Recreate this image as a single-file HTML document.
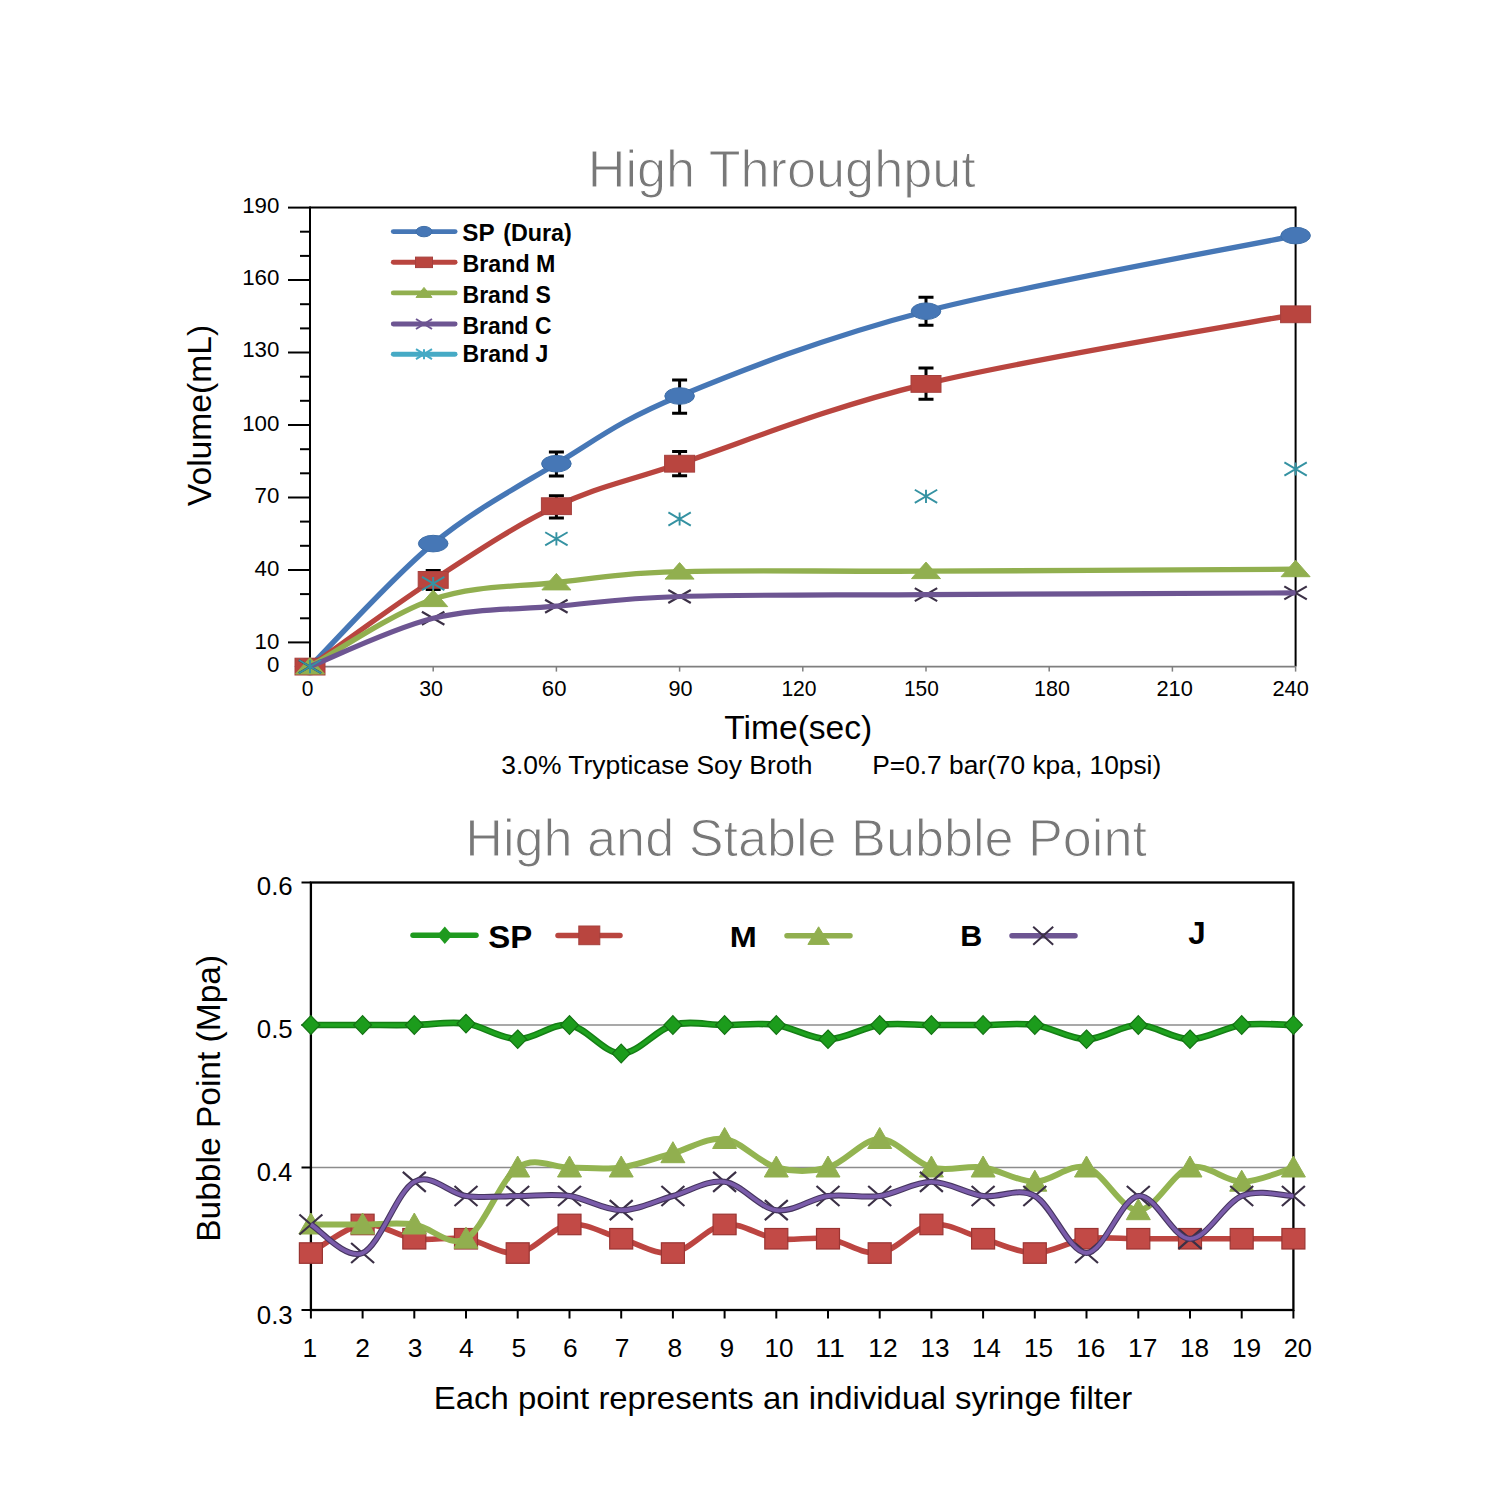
<!DOCTYPE html>
<html><head><meta charset="utf-8"><title>High Throughput / Bubble Point</title>
<style>
html,body{margin:0;padding:0;background:#fff;}
body{width:1500px;height:1500px;overflow:hidden;position:relative;}
svg{position:absolute;left:0;top:0;display:block;}
</style></head>
<body>
<svg width="1500" height="1500" viewBox="0 0 1500 1500" font-family='"Liberation Sans", Arial, Helvetica, sans-serif'>
<rect width="1500" height="1500" fill="#fff"/>
<text x="587.72" y="186.50" font-size="51.40" fill="#787878" textLength="388.06" lengthAdjust="spacingAndGlyphs" stroke="#fff" stroke-width="1.1">High Throughput</text>
<line x1="310" y1="207.5" x2="1295.6" y2="207.5" stroke="#000" stroke-width="2"/>
<line x1="310" y1="206.5" x2="310" y2="666.6" stroke="#000" stroke-width="2"/>
<line x1="1295.6" y1="206.5" x2="1295.6" y2="666.6" stroke="#000" stroke-width="2"/>
<line x1="310" y1="666.6" x2="1295.6" y2="666.6" stroke="#7f7f7f" stroke-width="1.6"/>
<line x1="300" y1="618.3" x2="310" y2="618.3" stroke="#000" stroke-width="2"/>
<line x1="300" y1="594.1" x2="310" y2="594.1" stroke="#000" stroke-width="2"/>
<line x1="300" y1="545.8" x2="310" y2="545.8" stroke="#000" stroke-width="2"/>
<line x1="300" y1="521.6" x2="310" y2="521.6" stroke="#000" stroke-width="2"/>
<line x1="300" y1="473.3" x2="310" y2="473.3" stroke="#000" stroke-width="2"/>
<line x1="300" y1="449.2" x2="310" y2="449.2" stroke="#000" stroke-width="2"/>
<line x1="300" y1="400.8" x2="310" y2="400.8" stroke="#000" stroke-width="2"/>
<line x1="300" y1="376.7" x2="310" y2="376.7" stroke="#000" stroke-width="2"/>
<line x1="300" y1="328.4" x2="310" y2="328.4" stroke="#000" stroke-width="2"/>
<line x1="300" y1="304.2" x2="310" y2="304.2" stroke="#000" stroke-width="2"/>
<line x1="300" y1="255.9" x2="310" y2="255.9" stroke="#000" stroke-width="2"/>
<line x1="300" y1="231.7" x2="310" y2="231.7" stroke="#000" stroke-width="2"/>
<line x1="288" y1="207.6" x2="310" y2="207.6" stroke="#000" stroke-width="2"/>
<line x1="288" y1="280" x2="310" y2="280" stroke="#000" stroke-width="2"/>
<line x1="288" y1="352.5" x2="310" y2="352.5" stroke="#000" stroke-width="2"/>
<line x1="288" y1="425" x2="310" y2="425" stroke="#000" stroke-width="2"/>
<line x1="288" y1="497.5" x2="310" y2="497.5" stroke="#000" stroke-width="2"/>
<line x1="288" y1="570" x2="310" y2="570" stroke="#000" stroke-width="2"/>
<line x1="288" y1="642.4" x2="310" y2="642.4" stroke="#000" stroke-width="2"/>
<text x="242.17" y="213.00" font-size="22.30" fill="#000" textLength="37.21" lengthAdjust="spacingAndGlyphs">190</text>
<text x="242.17" y="284.90" font-size="22.30" fill="#000" textLength="37.21" lengthAdjust="spacingAndGlyphs">160</text>
<text x="242.17" y="357.30" font-size="22.30" fill="#000" textLength="37.21" lengthAdjust="spacingAndGlyphs">130</text>
<text x="242.17" y="430.60" font-size="22.30" fill="#000" textLength="37.21" lengthAdjust="spacingAndGlyphs">100</text>
<text x="254.57" y="503.30" font-size="22.30" fill="#000" textLength="24.80" lengthAdjust="spacingAndGlyphs">70</text>
<text x="254.57" y="575.90" font-size="22.30" fill="#000" textLength="24.80" lengthAdjust="spacingAndGlyphs">40</text>
<text x="254.57" y="648.50" font-size="22.30" fill="#000" textLength="24.80" lengthAdjust="spacingAndGlyphs">10</text>
<text x="266.97" y="671.90" font-size="22.30" fill="#000" textLength="12.40" lengthAdjust="spacingAndGlyphs">0</text>
<line x1="433.2" y1="666.6" x2="433.2" y2="671.6" stroke="#7f7f7f" stroke-width="1.5"/>
<line x1="556.4" y1="666.6" x2="556.4" y2="671.6" stroke="#7f7f7f" stroke-width="1.5"/>
<line x1="679.6" y1="666.6" x2="679.6" y2="671.6" stroke="#7f7f7f" stroke-width="1.5"/>
<line x1="802.8" y1="666.6" x2="802.8" y2="671.6" stroke="#7f7f7f" stroke-width="1.5"/>
<line x1="926" y1="666.6" x2="926" y2="671.6" stroke="#7f7f7f" stroke-width="1.5"/>
<line x1="1049.2" y1="666.6" x2="1049.2" y2="671.6" stroke="#7f7f7f" stroke-width="1.5"/>
<line x1="1172.4" y1="666.6" x2="1172.4" y2="671.6" stroke="#7f7f7f" stroke-width="1.5"/>
<line x1="1295.6" y1="666.6" x2="1295.6" y2="671.6" stroke="#7f7f7f" stroke-width="1.5"/>
<text x="301.78" y="695.80" font-size="22.30" fill="#000" textLength="11.64" lengthAdjust="spacingAndGlyphs">0</text>
<text x="419.18" y="695.80" font-size="22.30" fill="#000" textLength="23.86" lengthAdjust="spacingAndGlyphs">30</text>
<text x="541.87" y="695.80" font-size="22.30" fill="#000" textLength="24.60" lengthAdjust="spacingAndGlyphs">60</text>
<text x="668.38" y="695.80" font-size="22.30" fill="#000" textLength="24.07" lengthAdjust="spacingAndGlyphs">90</text>
<text x="781.39" y="695.80" font-size="22.30" fill="#000" textLength="35.24" lengthAdjust="spacingAndGlyphs">120</text>
<text x="904.01" y="695.80" font-size="22.30" fill="#000" textLength="34.81" lengthAdjust="spacingAndGlyphs">150</text>
<text x="1033.97" y="695.80" font-size="22.30" fill="#000" textLength="35.88" lengthAdjust="spacingAndGlyphs">180</text>
<text x="1156.51" y="695.80" font-size="22.30" fill="#000" textLength="36.35" lengthAdjust="spacingAndGlyphs">210</text>
<text x="1272.51" y="695.80" font-size="22.30" fill="#000" textLength="36.35" lengthAdjust="spacingAndGlyphs">240</text>
<text x="724.26" y="738.60" font-size="32.60" fill="#000" textLength="148.03" lengthAdjust="spacingAndGlyphs">Time(sec)</text>
<text x="501.20" y="773.50" font-size="26.50" fill="#000" textLength="311.33" lengthAdjust="spacingAndGlyphs">3.0% Trypticase Soy Broth</text>
<text x="872.24" y="773.50" font-size="26.50" fill="#000" textLength="288.99" lengthAdjust="spacingAndGlyphs">P=0.7 bar(70 kpa, 10psi)</text>
<text transform="translate(210.80,506.17) rotate(-90)" x="0" y="0" font-size="33.60" fill="#000" textLength="181.44" lengthAdjust="spacingAndGlyphs">Volume(mL)</text>
<path d="M310,666.6 C330.5,646.1 392.1,577.4 433.2,543.6 C474.3,509.8 515.3,488.3 556.4,463.7 C597.5,439.1 618,421.4 679.6,396 C741.2,370.6 823.3,337.9 926,311.2 C1028.7,284.5 1234,248.2 1295.6,235.6" fill="none" stroke="#4677b6" stroke-width="5.3" stroke-linejoin="round"/>
<path d="M556.4,452 V475.9 M548.9,452 H563.9 M548.9,475.9 H563.9" stroke="#000" stroke-width="3" fill="none"/>
<path d="M679.6,380 V413.3 M672.1,380 H687.1 M672.1,413.3 H687.1" stroke="#000" stroke-width="3" fill="none"/>
<path d="M926,297.3 V325.3 M918.5,297.3 H933.5 M918.5,325.3 H933.5" stroke="#000" stroke-width="3" fill="none"/>
<ellipse cx="310" cy="666.6" rx="14.8" ry="8.3" fill="#4677b6" stroke="#3f6fa8" stroke-width="1"/>
<ellipse cx="433.2" cy="543.6" rx="14.8" ry="8.3" fill="#4677b6" stroke="#3f6fa8" stroke-width="1"/>
<ellipse cx="556.4" cy="463.7" rx="14.8" ry="8.3" fill="#4677b6" stroke="#3f6fa8" stroke-width="1"/>
<ellipse cx="679.6" cy="396" rx="14.8" ry="8.3" fill="#4677b6" stroke="#3f6fa8" stroke-width="1"/>
<ellipse cx="926" cy="311.2" rx="14.8" ry="8.3" fill="#4677b6" stroke="#3f6fa8" stroke-width="1"/>
<ellipse cx="1295.6" cy="235.6" rx="14.8" ry="8.3" fill="#4677b6" stroke="#3f6fa8" stroke-width="1"/>
<path d="M310,666.6 C330.5,652.1 392.1,606.6 433.2,579.9 C474.3,553.1 515.3,525.5 556.4,506.2 C597.5,486.8 618,484 679.6,463.7 C741.2,443.3 823.3,408.8 926,383.9 C1028.7,359 1234,325.9 1295.6,314.3" fill="none" stroke="#b9453f" stroke-width="5.3" stroke-linejoin="round"/>
<path d="M433.2,570.4 V589.6 M425.7,570.4 H440.7 M425.7,589.6 H440.7" stroke="#000" stroke-width="3" fill="none"/>
<path d="M556.4,495.7 V518.1 M548.9,495.7 H563.9 M548.9,518.1 H563.9" stroke="#000" stroke-width="3" fill="none"/>
<path d="M679.6,451.5 V475.8 M672.1,451.5 H687.1 M672.1,475.8 H687.1" stroke="#000" stroke-width="3" fill="none"/>
<path d="M926,368 V399.2 M918.5,368 H933.5 M918.5,399.2 H933.5" stroke="#000" stroke-width="3" fill="none"/>
<rect x="295" y="658.2" width="30" height="16.8" fill="#b9453f" stroke="#a5403d" stroke-width="1"/>
<rect x="418.2" y="571.5" width="30" height="16.8" fill="#b9453f" stroke="#a5403d" stroke-width="1"/>
<rect x="541.4" y="497.8" width="30" height="16.8" fill="#b9453f" stroke="#a5403d" stroke-width="1"/>
<rect x="664.6" y="455.3" width="30" height="16.8" fill="#b9453f" stroke="#a5403d" stroke-width="1"/>
<rect x="911" y="375.5" width="30" height="16.8" fill="#b9453f" stroke="#a5403d" stroke-width="1"/>
<rect x="1280.6" y="305.9" width="30" height="16.8" fill="#b9453f" stroke="#a5403d" stroke-width="1"/>
<path d="M310,666.6 C330.5,655.4 392.1,613.2 433.2,599.2 C474.3,585.2 515.3,587.1 556.4,582.5 C597.5,577.9 618,573.5 679.6,571.7 C741.2,569.8 823.3,571.6 926,571.2 C1028.7,570.8 1234,569.6 1295.6,569.2" fill="none" stroke="#91af4f" stroke-width="5.3" stroke-linejoin="round"/>
<path d="M310,657.5 L324.5,674 L295.5,674 Z" fill="#91af4f" stroke="#91af4f" stroke-width="1" stroke-linejoin="miter"/>
<path d="M433.2,590.1 L447.7,606.6 L418.7,606.6 Z" fill="#91af4f" stroke="#91af4f" stroke-width="1" stroke-linejoin="miter"/>
<path d="M556.4,573.4 L570.9,589.9 L541.9,589.9 Z" fill="#91af4f" stroke="#91af4f" stroke-width="1" stroke-linejoin="miter"/>
<path d="M679.6,562.6 L694.1,579.1 L665.1,579.1 Z" fill="#91af4f" stroke="#91af4f" stroke-width="1" stroke-linejoin="miter"/>
<path d="M926,562.1 L940.5,578.6 L911.5,578.6 Z" fill="#91af4f" stroke="#91af4f" stroke-width="1" stroke-linejoin="miter"/>
<path d="M1295.6,560.2 L1310.1,576.7 L1281.1,576.7 Z" fill="#91af4f" stroke="#91af4f" stroke-width="1" stroke-linejoin="miter"/>
<path d="M298.8,660.1 L321.2,673.1 M298.8,673.1 L321.2,660.1" stroke="#3b3046" stroke-width="2.2" fill="none"/>
<path d="M421.9,611.8 L444.4,624.8 M421.9,624.8 L444.4,611.8" stroke="#3b3046" stroke-width="2.2" fill="none"/>
<path d="M545.1,599.7 L567.6,612.7 M545.1,612.7 L567.6,599.7" stroke="#3b3046" stroke-width="2.2" fill="none"/>
<path d="M668.3,590 L690.8,603 M668.3,603 L690.8,590" stroke="#3b3046" stroke-width="2.2" fill="none"/>
<path d="M914.8,588.1 L937.2,601.1 M914.8,601.1 L937.2,588.1" stroke="#3b3046" stroke-width="2.2" fill="none"/>
<path d="M1284.3,586.4 L1306.8,599.4 M1284.3,599.4 L1306.8,586.4" stroke="#3b3046" stroke-width="2.2" fill="none"/>
<path d="M310,666.6 C330.5,658.5 392.1,628.3 433.2,618.3 C474.3,608.2 515.3,609.8 556.4,606.2 C597.5,602.6 618,598.5 679.6,596.5 C741.2,594.6 823.3,595.2 926,594.6 C1028.7,594 1234,593.2 1295.6,592.9" fill="none" stroke="#6d5592" stroke-width="5.2" stroke-linejoin="round"/>
<path d="M298.8,660 L321.2,673.2 M298.8,673.2 L321.2,660 M310,660 V673.2" stroke="#3592a2" stroke-width="1.9" fill="none"/>
<path d="M422,576.9 L444.4,590.1 M422,590.1 L444.4,576.9 M433.2,576.9 V590.1" stroke="#3592a2" stroke-width="1.9" fill="none"/>
<path d="M545.2,532.2 L567.6,545.4 M545.2,545.4 L567.6,532.2 M556.4,532.2 V545.4" stroke="#3592a2" stroke-width="1.9" fill="none"/>
<path d="M668.4,512.4 L690.8,525.6 M668.4,525.6 L690.8,512.4 M679.6,512.4 V525.6" stroke="#3592a2" stroke-width="1.9" fill="none"/>
<path d="M914.8,489.7 L937.2,502.9 M914.8,502.9 L937.2,489.7 M926,489.7 V502.9" stroke="#3592a2" stroke-width="1.9" fill="none"/>
<path d="M1284.4,462.4 L1306.8,475.6 M1284.4,475.6 L1306.8,462.4 M1295.6,462.4 V475.6" stroke="#3592a2" stroke-width="1.9" fill="none"/>
<line x1="393.3" y1="231.6" x2="455.1" y2="231.6" stroke="#4677b6" stroke-width="4.9" stroke-linecap="round"/>
<ellipse cx="424" cy="231.6" rx="8.1" ry="5.2" fill="#4677b6" stroke="#3f6fa8" stroke-width="1"/>
<line x1="393.3" y1="262.3" x2="455.1" y2="262.3" stroke="#b9453f" stroke-width="4.9" stroke-linecap="round"/>
<rect x="415.5" y="257.1" width="17" height="10.5" fill="#b9453f" stroke="#a5403d" stroke-width="1"/>
<line x1="393.3" y1="292.9" x2="455.1" y2="292.9" stroke="#91af4f" stroke-width="4.9" stroke-linecap="round"/>
<path d="M424,287.4 L432,297.4 L416,297.4 Z" fill="#91af4f" stroke="#91af4f" stroke-width="1" stroke-linejoin="miter"/>
<line x1="393.3" y1="324" x2="455.1" y2="324" stroke="#6d5592" stroke-width="4.9" stroke-linecap="round"/>
<path d="M416,319 L432,329 M416,329 L432,319" stroke="#6d5592" stroke-width="2" fill="none"/>
<line x1="393.3" y1="354.2" x2="455.1" y2="354.2" stroke="#46aac5" stroke-width="4.9" stroke-linecap="round"/>
<path d="M416,349.2 L432,359.2 M416,359.2 L432,349.2 M424,349.2 V359.2" stroke="#46aac5" stroke-width="2" fill="none"/>
<text x="462.30" y="241.00" font-size="23.50" font-weight="bold" fill="#000" textLength="32.33" lengthAdjust="spacingAndGlyphs">SP</text>
<text x="503.23" y="241.00" font-size="23.50" font-weight="bold" fill="#000" textLength="68.64" lengthAdjust="spacingAndGlyphs">(Dura)</text>
<text x="462.55" y="271.80" font-size="23.50" font-weight="bold" fill="#000" textLength="92.81" lengthAdjust="spacingAndGlyphs">Brand M</text>
<text x="462.56" y="302.70" font-size="23.30" font-weight="bold" fill="#000" textLength="88.24" lengthAdjust="spacingAndGlyphs">Brand S</text>
<text x="462.57" y="333.60" font-size="23.30" font-weight="bold" fill="#000" textLength="88.85" lengthAdjust="spacingAndGlyphs">Brand C</text>
<text x="462.56" y="361.60" font-size="23.30" font-weight="bold" fill="#000" textLength="85.71" lengthAdjust="spacingAndGlyphs">Brand J</text>
<text x="465.32" y="855.70" font-size="51.40" fill="#787878" textLength="681.64" lengthAdjust="spacingAndGlyphs" stroke="#fff" stroke-width="1.1">High and Stable Bubble Point</text>
<line x1="310.9" y1="1025" x2="1293.4" y2="1025" stroke="#8c8c8c" stroke-width="1.6"/>
<line x1="310.9" y1="1167.5" x2="1293.4" y2="1167.5" stroke="#8c8c8c" stroke-width="1.6"/>
<rect x="310.9" y="882.5" width="982.5" height="427.5" fill="none" stroke="#000" stroke-width="2.3"/>
<line x1="301.5" y1="882.5" x2="310.9" y2="882.5" stroke="#000" stroke-width="2"/>
<line x1="301.5" y1="1025" x2="310.9" y2="1025" stroke="#000" stroke-width="2"/>
<line x1="301.5" y1="1167.5" x2="310.9" y2="1167.5" stroke="#000" stroke-width="2"/>
<line x1="301.5" y1="1310" x2="310.9" y2="1310" stroke="#000" stroke-width="2"/>
<text x="256.79" y="894.80" font-size="26.40" fill="#000" textLength="35.95" lengthAdjust="spacingAndGlyphs">0.6</text>
<text x="256.79" y="1037.60" font-size="26.40" fill="#000" textLength="35.90" lengthAdjust="spacingAndGlyphs">0.5</text>
<text x="256.80" y="1180.70" font-size="26.40" fill="#000" textLength="35.54" lengthAdjust="spacingAndGlyphs">0.4</text>
<text x="256.79" y="1323.80" font-size="26.40" fill="#000" textLength="35.95" lengthAdjust="spacingAndGlyphs">0.3</text>
<line x1="310.9" y1="1310" x2="310.9" y2="1318.5" stroke="#000" stroke-width="2"/>
<text x="302.50" y="1356.70" font-size="26.40" fill="#000" textLength="14.68" lengthAdjust="spacingAndGlyphs">1</text>
<line x1="362.6" y1="1310" x2="362.6" y2="1318.5" stroke="#000" stroke-width="2"/>
<text x="355.26" y="1356.70" font-size="26.40" fill="#000" textLength="14.68" lengthAdjust="spacingAndGlyphs">2</text>
<line x1="414.3" y1="1310" x2="414.3" y2="1318.5" stroke="#000" stroke-width="2"/>
<text x="407.74" y="1356.70" font-size="26.40" fill="#000" textLength="14.68" lengthAdjust="spacingAndGlyphs">3</text>
<line x1="466" y1="1310" x2="466" y2="1318.5" stroke="#000" stroke-width="2"/>
<text x="458.94" y="1356.70" font-size="26.40" fill="#000" textLength="14.68" lengthAdjust="spacingAndGlyphs">4</text>
<line x1="517.7" y1="1310" x2="517.7" y2="1318.5" stroke="#000" stroke-width="2"/>
<text x="511.59" y="1356.70" font-size="26.40" fill="#000" textLength="14.68" lengthAdjust="spacingAndGlyphs">5</text>
<line x1="569.5" y1="1310" x2="569.5" y2="1318.5" stroke="#000" stroke-width="2"/>
<text x="563.07" y="1356.70" font-size="26.40" fill="#000" textLength="14.68" lengthAdjust="spacingAndGlyphs">6</text>
<line x1="621.2" y1="1310" x2="621.2" y2="1318.5" stroke="#000" stroke-width="2"/>
<text x="614.85" y="1356.70" font-size="26.40" fill="#000" textLength="14.68" lengthAdjust="spacingAndGlyphs">7</text>
<line x1="672.9" y1="1310" x2="672.9" y2="1318.5" stroke="#000" stroke-width="2"/>
<text x="667.56" y="1356.70" font-size="26.40" fill="#000" textLength="14.68" lengthAdjust="spacingAndGlyphs">8</text>
<line x1="724.6" y1="1310" x2="724.6" y2="1318.5" stroke="#000" stroke-width="2"/>
<text x="719.56" y="1356.70" font-size="26.40" fill="#000" textLength="14.68" lengthAdjust="spacingAndGlyphs">9</text>
<line x1="776.3" y1="1310" x2="776.3" y2="1318.5" stroke="#000" stroke-width="2"/>
<text x="764.42" y="1356.70" font-size="26.40" fill="#000" textLength="29.01" lengthAdjust="spacingAndGlyphs">10</text>
<line x1="828" y1="1310" x2="828" y2="1318.5" stroke="#000" stroke-width="2"/>
<text x="815.34" y="1356.70" font-size="26.40" fill="#000" textLength="29.56" lengthAdjust="spacingAndGlyphs">11</text>
<line x1="879.7" y1="1310" x2="879.7" y2="1318.5" stroke="#000" stroke-width="2"/>
<text x="868.30" y="1356.70" font-size="26.40" fill="#000" textLength="29.33" lengthAdjust="spacingAndGlyphs">12</text>
<line x1="931.4" y1="1310" x2="931.4" y2="1318.5" stroke="#000" stroke-width="2"/>
<text x="920.41" y="1356.70" font-size="26.40" fill="#000" textLength="29.15" lengthAdjust="spacingAndGlyphs">13</text>
<line x1="983.1" y1="1310" x2="983.1" y2="1318.5" stroke="#000" stroke-width="2"/>
<text x="972.04" y="1356.70" font-size="26.40" fill="#000" textLength="28.72" lengthAdjust="spacingAndGlyphs">14</text>
<line x1="1034.8" y1="1310" x2="1034.8" y2="1318.5" stroke="#000" stroke-width="2"/>
<text x="1024.01" y="1356.70" font-size="26.40" fill="#000" textLength="29.09" lengthAdjust="spacingAndGlyphs">15</text>
<line x1="1086.5" y1="1310" x2="1086.5" y2="1318.5" stroke="#000" stroke-width="2"/>
<text x="1076.31" y="1356.70" font-size="26.40" fill="#000" textLength="29.15" lengthAdjust="spacingAndGlyphs">16</text>
<line x1="1138.3" y1="1310" x2="1138.3" y2="1318.5" stroke="#000" stroke-width="2"/>
<text x="1128.00" y="1356.70" font-size="26.40" fill="#000" textLength="29.33" lengthAdjust="spacingAndGlyphs">17</text>
<line x1="1190" y1="1310" x2="1190" y2="1318.5" stroke="#000" stroke-width="2"/>
<text x="1180.01" y="1356.70" font-size="26.40" fill="#000" textLength="29.12" lengthAdjust="spacingAndGlyphs">18</text>
<line x1="1241.7" y1="1310" x2="1241.7" y2="1318.5" stroke="#000" stroke-width="2"/>
<text x="1232.00" y="1356.70" font-size="26.40" fill="#000" textLength="29.24" lengthAdjust="spacingAndGlyphs">19</text>
<line x1="1293.4" y1="1310" x2="1293.4" y2="1318.5" stroke="#000" stroke-width="2"/>
<text x="1283.73" y="1356.70" font-size="26.40" fill="#000" textLength="28.27" lengthAdjust="spacingAndGlyphs">20</text>
<text x="433.80" y="1409.00" font-size="31.30" fill="#000" textLength="698.46" lengthAdjust="spacingAndGlyphs">Each point represents an individual syringe filter</text>
<text transform="translate(220.00,1241.75) rotate(-90)" x="0" y="0" font-size="34.00" fill="#000" textLength="286.83" lengthAdjust="spacingAndGlyphs">Bubble Point (Mpa)</text>
<path d="M310.9,1253 C319.5,1248.2 345.4,1226.9 362.6,1224.5 C379.8,1222.1 397.1,1236.4 414.3,1238.8 C431.6,1241.1 448.8,1236.4 466,1238.8 C483.3,1241.1 500.5,1255.4 517.7,1253 C535,1250.6 552.2,1226.9 569.5,1224.5 C586.7,1222.1 603.9,1234 621.2,1238.8 C638.4,1243.5 655.6,1255.4 672.9,1253 C690.1,1250.6 707.3,1226.9 724.6,1224.5 C741.8,1222.1 759.1,1236.4 776.3,1238.8 C793.5,1241.1 810.8,1236.4 828,1238.8 C845.2,1241.1 862.5,1255.4 879.7,1253 C896.9,1250.6 914.2,1226.9 931.4,1224.5 C948.7,1222.1 965.9,1234 983.1,1238.8 C1000.4,1243.5 1017.6,1253 1034.8,1253 C1052.1,1253 1069.3,1241.1 1086.5,1238.8 C1103.8,1236.4 1121,1238.8 1138.3,1238.8 C1155.5,1238.8 1172.7,1238.8 1190,1238.8 C1207.2,1238.8 1224.4,1238.8 1241.7,1238.8 C1258.9,1238.8 1284.8,1238.8 1293.4,1238.8" fill="none" stroke="#bc4541" stroke-width="5.6" stroke-linejoin="round"/>
<rect x="299.4" y="1242.8" width="23" height="20.5" fill="#c24a46" stroke="#9a3532" stroke-width="1.2"/>
<rect x="351.1" y="1214.2" width="23" height="20.5" fill="#c24a46" stroke="#9a3532" stroke-width="1.2"/>
<rect x="402.8" y="1228.5" width="23" height="20.5" fill="#c24a46" stroke="#9a3532" stroke-width="1.2"/>
<rect x="454.5" y="1228.5" width="23" height="20.5" fill="#c24a46" stroke="#9a3532" stroke-width="1.2"/>
<rect x="506.2" y="1242.8" width="23" height="20.5" fill="#c24a46" stroke="#9a3532" stroke-width="1.2"/>
<rect x="558" y="1214.2" width="23" height="20.5" fill="#c24a46" stroke="#9a3532" stroke-width="1.2"/>
<rect x="609.7" y="1228.5" width="23" height="20.5" fill="#c24a46" stroke="#9a3532" stroke-width="1.2"/>
<rect x="661.4" y="1242.8" width="23" height="20.5" fill="#c24a46" stroke="#9a3532" stroke-width="1.2"/>
<rect x="713.1" y="1214.2" width="23" height="20.5" fill="#c24a46" stroke="#9a3532" stroke-width="1.2"/>
<rect x="764.8" y="1228.5" width="23" height="20.5" fill="#c24a46" stroke="#9a3532" stroke-width="1.2"/>
<rect x="816.5" y="1228.5" width="23" height="20.5" fill="#c24a46" stroke="#9a3532" stroke-width="1.2"/>
<rect x="868.2" y="1242.8" width="23" height="20.5" fill="#c24a46" stroke="#9a3532" stroke-width="1.2"/>
<rect x="919.9" y="1214.2" width="23" height="20.5" fill="#c24a46" stroke="#9a3532" stroke-width="1.2"/>
<rect x="971.6" y="1228.5" width="23" height="20.5" fill="#c24a46" stroke="#9a3532" stroke-width="1.2"/>
<rect x="1023.3" y="1242.8" width="23" height="20.5" fill="#c24a46" stroke="#9a3532" stroke-width="1.2"/>
<rect x="1075" y="1228.5" width="23" height="20.5" fill="#c24a46" stroke="#9a3532" stroke-width="1.2"/>
<rect x="1126.8" y="1228.5" width="23" height="20.5" fill="#c24a46" stroke="#9a3532" stroke-width="1.2"/>
<rect x="1178.5" y="1228.5" width="23" height="20.5" fill="#c24a46" stroke="#9a3532" stroke-width="1.2"/>
<rect x="1230.2" y="1228.5" width="23" height="20.5" fill="#c24a46" stroke="#9a3532" stroke-width="1.2"/>
<rect x="1281.9" y="1228.5" width="23" height="20.5" fill="#c24a46" stroke="#9a3532" stroke-width="1.2"/>
<path d="M310.9,1224.5 C319.5,1224.5 345.4,1224.5 362.6,1224.5 C379.8,1224.5 397.1,1222.1 414.3,1224.5 C431.6,1226.9 448.8,1248.2 466,1238.8 C483.3,1229.2 500.5,1179.4 517.7,1167.5 C535,1155.6 552.2,1167.5 569.5,1167.5 C586.7,1167.5 603.9,1169.9 621.2,1167.5 C638.4,1165.1 655.6,1158 672.9,1153.2 C690.1,1148.5 707.3,1136.6 724.6,1139 C741.8,1141.4 759.1,1162.8 776.3,1167.5 C793.5,1172.2 810.8,1172.2 828,1167.5 C845.2,1162.8 862.5,1139 879.7,1139 C896.9,1139 914.2,1162.8 931.4,1167.5 C948.7,1172.2 965.9,1165.1 983.1,1167.5 C1000.4,1169.9 1017.6,1181.8 1034.8,1181.8 C1052.1,1181.8 1069.3,1162.8 1086.5,1167.5 C1103.8,1172.2 1121,1210.2 1138.3,1210.2 C1155.5,1210.2 1172.7,1172.2 1190,1167.5 C1207.2,1162.8 1224.4,1181.8 1241.7,1181.8 C1258.9,1181.8 1284.8,1169.9 1293.4,1167.5" fill="none" stroke="#93b451" stroke-width="6" stroke-linejoin="round"/>
<path d="M310.9,1213 L322.9,1234 L298.9,1234 Z" fill="#91af4f" stroke="#91af4f" stroke-width="1" stroke-linejoin="miter"/>
<path d="M362.6,1213 L374.6,1234 L350.6,1234 Z" fill="#91af4f" stroke="#91af4f" stroke-width="1" stroke-linejoin="miter"/>
<path d="M414.3,1213 L426.3,1234 L402.3,1234 Z" fill="#91af4f" stroke="#91af4f" stroke-width="1" stroke-linejoin="miter"/>
<path d="M466,1227.2 L478,1248.2 L454,1248.2 Z" fill="#91af4f" stroke="#91af4f" stroke-width="1" stroke-linejoin="miter"/>
<path d="M517.7,1156 L529.7,1177 L505.7,1177 Z" fill="#91af4f" stroke="#91af4f" stroke-width="1" stroke-linejoin="miter"/>
<path d="M569.5,1156 L581.5,1177 L557.5,1177 Z" fill="#91af4f" stroke="#91af4f" stroke-width="1" stroke-linejoin="miter"/>
<path d="M621.2,1156 L633.2,1177 L609.2,1177 Z" fill="#91af4f" stroke="#91af4f" stroke-width="1" stroke-linejoin="miter"/>
<path d="M672.9,1141.7 L684.9,1162.7 L660.9,1162.7 Z" fill="#91af4f" stroke="#91af4f" stroke-width="1" stroke-linejoin="miter"/>
<path d="M724.6,1127.5 L736.6,1148.5 L712.6,1148.5 Z" fill="#91af4f" stroke="#91af4f" stroke-width="1" stroke-linejoin="miter"/>
<path d="M776.3,1156 L788.3,1177 L764.3,1177 Z" fill="#91af4f" stroke="#91af4f" stroke-width="1" stroke-linejoin="miter"/>
<path d="M828,1156 L840,1177 L816,1177 Z" fill="#91af4f" stroke="#91af4f" stroke-width="1" stroke-linejoin="miter"/>
<path d="M879.7,1127.5 L891.7,1148.5 L867.7,1148.5 Z" fill="#91af4f" stroke="#91af4f" stroke-width="1" stroke-linejoin="miter"/>
<path d="M931.4,1156 L943.4,1177 L919.4,1177 Z" fill="#91af4f" stroke="#91af4f" stroke-width="1" stroke-linejoin="miter"/>
<path d="M983.1,1156 L995.1,1177 L971.1,1177 Z" fill="#91af4f" stroke="#91af4f" stroke-width="1" stroke-linejoin="miter"/>
<path d="M1034.8,1170.2 L1046.8,1191.2 L1022.8,1191.2 Z" fill="#91af4f" stroke="#91af4f" stroke-width="1" stroke-linejoin="miter"/>
<path d="M1086.5,1156 L1098.5,1177 L1074.5,1177 Z" fill="#91af4f" stroke="#91af4f" stroke-width="1" stroke-linejoin="miter"/>
<path d="M1138.3,1198.7 L1150.3,1219.7 L1126.3,1219.7 Z" fill="#91af4f" stroke="#91af4f" stroke-width="1" stroke-linejoin="miter"/>
<path d="M1190,1156 L1202,1177 L1178,1177 Z" fill="#91af4f" stroke="#91af4f" stroke-width="1" stroke-linejoin="miter"/>
<path d="M1241.7,1170.2 L1253.7,1191.2 L1229.7,1191.2 Z" fill="#91af4f" stroke="#91af4f" stroke-width="1" stroke-linejoin="miter"/>
<path d="M1293.4,1156 L1305.4,1177 L1281.4,1177 Z" fill="#91af4f" stroke="#91af4f" stroke-width="1" stroke-linejoin="miter"/>
<path d="M299.4,1214.5 L322.4,1234.5 M299.4,1234.5 L322.4,1214.5" stroke="#3b3046" stroke-width="2.2" fill="none"/>
<path d="M351.1,1243 L374.1,1263 M351.1,1263 L374.1,1243" stroke="#3b3046" stroke-width="2.2" fill="none"/>
<path d="M402.8,1171.8 L425.8,1191.8 M402.8,1191.8 L425.8,1171.8" stroke="#3b3046" stroke-width="2.2" fill="none"/>
<path d="M454.5,1186 L477.5,1206 M454.5,1206 L477.5,1186" stroke="#3b3046" stroke-width="2.2" fill="none"/>
<path d="M506.2,1186 L529.2,1206 M506.2,1206 L529.2,1186" stroke="#3b3046" stroke-width="2.2" fill="none"/>
<path d="M558,1186 L581,1206 M558,1206 L581,1186" stroke="#3b3046" stroke-width="2.2" fill="none"/>
<path d="M609.7,1200.2 L632.7,1220.2 M609.7,1220.2 L632.7,1200.2" stroke="#3b3046" stroke-width="2.2" fill="none"/>
<path d="M661.4,1186 L684.4,1206 M661.4,1206 L684.4,1186" stroke="#3b3046" stroke-width="2.2" fill="none"/>
<path d="M713.1,1171.8 L736.1,1191.8 M713.1,1191.8 L736.1,1171.8" stroke="#3b3046" stroke-width="2.2" fill="none"/>
<path d="M764.8,1200.2 L787.8,1220.2 M764.8,1220.2 L787.8,1200.2" stroke="#3b3046" stroke-width="2.2" fill="none"/>
<path d="M816.5,1186 L839.5,1206 M816.5,1206 L839.5,1186" stroke="#3b3046" stroke-width="2.2" fill="none"/>
<path d="M868.2,1186 L891.2,1206 M868.2,1206 L891.2,1186" stroke="#3b3046" stroke-width="2.2" fill="none"/>
<path d="M919.9,1171.8 L942.9,1191.8 M919.9,1191.8 L942.9,1171.8" stroke="#3b3046" stroke-width="2.2" fill="none"/>
<path d="M971.6,1186 L994.6,1206 M971.6,1206 L994.6,1186" stroke="#3b3046" stroke-width="2.2" fill="none"/>
<path d="M1023.3,1186 L1046.3,1206 M1023.3,1206 L1046.3,1186" stroke="#3b3046" stroke-width="2.2" fill="none"/>
<path d="M1075,1243 L1098,1263 M1075,1263 L1098,1243" stroke="#3b3046" stroke-width="2.2" fill="none"/>
<path d="M1126.8,1186 L1149.8,1206 M1126.8,1206 L1149.8,1186" stroke="#3b3046" stroke-width="2.2" fill="none"/>
<path d="M1178.5,1228.8 L1201.5,1248.8 M1178.5,1248.8 L1201.5,1228.8" stroke="#3b3046" stroke-width="2.2" fill="none"/>
<path d="M1230.2,1186 L1253.2,1206 M1230.2,1206 L1253.2,1186" stroke="#3b3046" stroke-width="2.2" fill="none"/>
<path d="M1281.9,1186 L1304.9,1206 M1281.9,1206 L1304.9,1186" stroke="#3b3046" stroke-width="2.2" fill="none"/>
<path d="M310.9,1224.5 C319.5,1229.2 345.4,1260.1 362.6,1253 C379.8,1245.9 397.1,1191.2 414.3,1181.8 C431.6,1172.2 448.8,1193.6 466,1196 C483.3,1198.4 500.5,1196 517.7,1196 C535,1196 552.2,1193.6 569.5,1196 C586.7,1198.4 603.9,1210.2 621.2,1210.2 C638.4,1210.2 655.6,1200.8 672.9,1196 C690.1,1191.2 707.3,1179.4 724.6,1181.8 C741.8,1184.1 759.1,1207.9 776.3,1210.2 C793.5,1212.6 810.8,1198.4 828,1196 C845.2,1193.6 862.5,1198.4 879.7,1196 C896.9,1193.6 914.2,1181.8 931.4,1181.8 C948.7,1181.8 965.9,1193.6 983.1,1196 C1000.4,1198.4 1017.6,1186.5 1034.8,1196 C1052.1,1205.5 1069.3,1253 1086.5,1253 C1103.8,1253 1121,1198.4 1138.3,1196 C1155.5,1193.6 1172.7,1238.8 1190,1238.8 C1207.2,1238.8 1224.4,1203.1 1241.7,1196 C1258.9,1188.9 1284.8,1196 1293.4,1196" fill="none" stroke="#46355f" stroke-width="6" stroke-linejoin="round"/>
<path d="M310.9,1224.5 C319.5,1229.2 345.4,1260.1 362.6,1253 C379.8,1245.9 397.1,1191.2 414.3,1181.8 C431.6,1172.2 448.8,1193.6 466,1196 C483.3,1198.4 500.5,1196 517.7,1196 C535,1196 552.2,1193.6 569.5,1196 C586.7,1198.4 603.9,1210.2 621.2,1210.2 C638.4,1210.2 655.6,1200.8 672.9,1196 C690.1,1191.2 707.3,1179.4 724.6,1181.8 C741.8,1184.1 759.1,1207.9 776.3,1210.2 C793.5,1212.6 810.8,1198.4 828,1196 C845.2,1193.6 862.5,1198.4 879.7,1196 C896.9,1193.6 914.2,1181.8 931.4,1181.8 C948.7,1181.8 965.9,1193.6 983.1,1196 C1000.4,1198.4 1017.6,1186.5 1034.8,1196 C1052.1,1205.5 1069.3,1253 1086.5,1253 C1103.8,1253 1121,1198.4 1138.3,1196 C1155.5,1193.6 1172.7,1238.8 1190,1238.8 C1207.2,1238.8 1224.4,1203.1 1241.7,1196 C1258.9,1188.9 1284.8,1196 1293.4,1196" fill="none" stroke="#7a5caa" stroke-width="3.8" stroke-linejoin="round"/>
<path d="M310.9,1025 C319.5,1025 345.4,1025 362.6,1025 C379.8,1025 397.1,1025.2 414.3,1025 C431.6,1024.8 448.8,1021.2 466,1023.6 C483.3,1026 500.5,1039 517.7,1039.2 C535,1039.5 552.2,1022.6 569.5,1025 C586.7,1027.4 603.9,1053.5 621.2,1053.5 C638.4,1053.5 655.6,1029.8 672.9,1025 C690.1,1020.2 707.3,1025 724.6,1025 C741.8,1025 759.1,1022.6 776.3,1025 C793.5,1027.4 810.8,1039.2 828,1039.2 C845.2,1039.2 862.5,1027.4 879.7,1025 C896.9,1022.6 914.2,1025 931.4,1025 C948.7,1025 965.9,1025 983.1,1025 C1000.4,1025 1017.6,1022.6 1034.8,1025 C1052.1,1027.4 1069.3,1039.2 1086.5,1039.2 C1103.8,1039.2 1121,1025 1138.3,1025 C1155.5,1025 1172.7,1039.2 1190,1039.2 C1207.2,1039.2 1224.4,1027.4 1241.7,1025 C1258.9,1022.6 1284.8,1025 1293.4,1025" fill="none" stroke="#157f15" stroke-width="6.6" stroke-linejoin="round"/>
<path d="M310.9,1025 C319.5,1025 345.4,1025 362.6,1025 C379.8,1025 397.1,1025.2 414.3,1025 C431.6,1024.8 448.8,1021.2 466,1023.6 C483.3,1026 500.5,1039 517.7,1039.2 C535,1039.5 552.2,1022.6 569.5,1025 C586.7,1027.4 603.9,1053.5 621.2,1053.5 C638.4,1053.5 655.6,1029.8 672.9,1025 C690.1,1020.2 707.3,1025 724.6,1025 C741.8,1025 759.1,1022.6 776.3,1025 C793.5,1027.4 810.8,1039.2 828,1039.2 C845.2,1039.2 862.5,1027.4 879.7,1025 C896.9,1022.6 914.2,1025 931.4,1025 C948.7,1025 965.9,1025 983.1,1025 C1000.4,1025 1017.6,1022.6 1034.8,1025 C1052.1,1027.4 1069.3,1039.2 1086.5,1039.2 C1103.8,1039.2 1121,1025 1138.3,1025 C1155.5,1025 1172.7,1039.2 1190,1039.2 C1207.2,1039.2 1224.4,1027.4 1241.7,1025 C1258.9,1022.6 1284.8,1025 1293.4,1025" fill="none" stroke="#1ea21e" stroke-width="3.6" stroke-linejoin="round"/>
<path d="M310.9,1015.7 L319.9,1025 L310.9,1034.3 L301.9,1025 Z" fill="#1c9c1c" stroke="#137313" stroke-width="1.2"/>
<path d="M362.6,1015.7 L371.6,1025 L362.6,1034.3 L353.6,1025 Z" fill="#1c9c1c" stroke="#137313" stroke-width="1.2"/>
<path d="M414.3,1015.7 L423.3,1025 L414.3,1034.3 L405.3,1025 Z" fill="#1c9c1c" stroke="#137313" stroke-width="1.2"/>
<path d="M466,1014.3 L475,1023.6 L466,1032.9 L457,1023.6 Z" fill="#1c9c1c" stroke="#137313" stroke-width="1.2"/>
<path d="M517.7,1030 L526.7,1039.2 L517.7,1048.5 L508.7,1039.2 Z" fill="#1c9c1c" stroke="#137313" stroke-width="1.2"/>
<path d="M569.5,1015.7 L578.5,1025 L569.5,1034.3 L560.5,1025 Z" fill="#1c9c1c" stroke="#137313" stroke-width="1.2"/>
<path d="M621.2,1044.2 L630.2,1053.5 L621.2,1062.8 L612.2,1053.5 Z" fill="#1c9c1c" stroke="#137313" stroke-width="1.2"/>
<path d="M672.9,1015.7 L681.9,1025 L672.9,1034.3 L663.9,1025 Z" fill="#1c9c1c" stroke="#137313" stroke-width="1.2"/>
<path d="M724.6,1015.7 L733.6,1025 L724.6,1034.3 L715.6,1025 Z" fill="#1c9c1c" stroke="#137313" stroke-width="1.2"/>
<path d="M776.3,1015.7 L785.3,1025 L776.3,1034.3 L767.3,1025 Z" fill="#1c9c1c" stroke="#137313" stroke-width="1.2"/>
<path d="M828,1030 L837,1039.2 L828,1048.5 L819,1039.2 Z" fill="#1c9c1c" stroke="#137313" stroke-width="1.2"/>
<path d="M879.7,1015.7 L888.7,1025 L879.7,1034.3 L870.7,1025 Z" fill="#1c9c1c" stroke="#137313" stroke-width="1.2"/>
<path d="M931.4,1015.7 L940.4,1025 L931.4,1034.3 L922.4,1025 Z" fill="#1c9c1c" stroke="#137313" stroke-width="1.2"/>
<path d="M983.1,1015.7 L992.1,1025 L983.1,1034.3 L974.1,1025 Z" fill="#1c9c1c" stroke="#137313" stroke-width="1.2"/>
<path d="M1034.8,1015.7 L1043.8,1025 L1034.8,1034.3 L1025.8,1025 Z" fill="#1c9c1c" stroke="#137313" stroke-width="1.2"/>
<path d="M1086.5,1030 L1095.5,1039.2 L1086.5,1048.5 L1077.5,1039.2 Z" fill="#1c9c1c" stroke="#137313" stroke-width="1.2"/>
<path d="M1138.3,1015.7 L1147.3,1025 L1138.3,1034.3 L1129.3,1025 Z" fill="#1c9c1c" stroke="#137313" stroke-width="1.2"/>
<path d="M1190,1030 L1199,1039.2 L1190,1048.5 L1181,1039.2 Z" fill="#1c9c1c" stroke="#137313" stroke-width="1.2"/>
<path d="M1241.7,1015.7 L1250.7,1025 L1241.7,1034.3 L1232.7,1025 Z" fill="#1c9c1c" stroke="#137313" stroke-width="1.2"/>
<path d="M1293.4,1015.7 L1302.4,1025 L1293.4,1034.3 L1284.4,1025 Z" fill="#1c9c1c" stroke="#137313" stroke-width="1.2"/>
<line x1="413" y1="935.2" x2="476" y2="935.2" stroke="#1f9a1f" stroke-width="5.5" stroke-linecap="round"/>
<path d="M444.8,926.6 L452.3,935.2 L444.8,943.9 L437.3,935.2 Z" fill="#1f9a1f"/>
<line x1="558" y1="935.5" x2="620" y2="935.5" stroke="#b9453f" stroke-width="5.5" stroke-linecap="round"/>
<rect x="578.8" y="926" width="21" height="18.7" fill="#b9453f" stroke="#a5403d" stroke-width="1"/>
<line x1="787" y1="935.8" x2="850" y2="935.8" stroke="#91af4f" stroke-width="5.5" stroke-linecap="round"/>
<path d="M818.6,926.8 L829.3,944.4 L807.9,944.4 Z" fill="#91af4f" stroke="#91af4f" stroke-width="1" stroke-linejoin="miter"/>
<line x1="1012" y1="935.8" x2="1075" y2="935.8" stroke="#6d5592" stroke-width="5.5" stroke-linecap="round"/>
<path d="M1033.2,926.7 L1053.2,944.7 M1033.2,944.7 L1053.2,926.7" stroke="#3b3046" stroke-width="2" fill="none"/>
<text x="488.34" y="947.50" font-size="31.00" font-weight="bold" fill="#000" textLength="43.98" lengthAdjust="spacingAndGlyphs">SP</text>
<text x="729.82" y="946.50" font-size="29.00" font-weight="bold" fill="#000" textLength="27.05" lengthAdjust="spacingAndGlyphs">M</text>
<text x="960.16" y="946.40" font-size="29.00" font-weight="bold" fill="#000" textLength="22.02" lengthAdjust="spacingAndGlyphs">B</text>
<text x="1188.13" y="943.80" font-size="31.50" font-weight="bold" fill="#000" textLength="17.40" lengthAdjust="spacingAndGlyphs">J</text>
</svg>
</body></html>
